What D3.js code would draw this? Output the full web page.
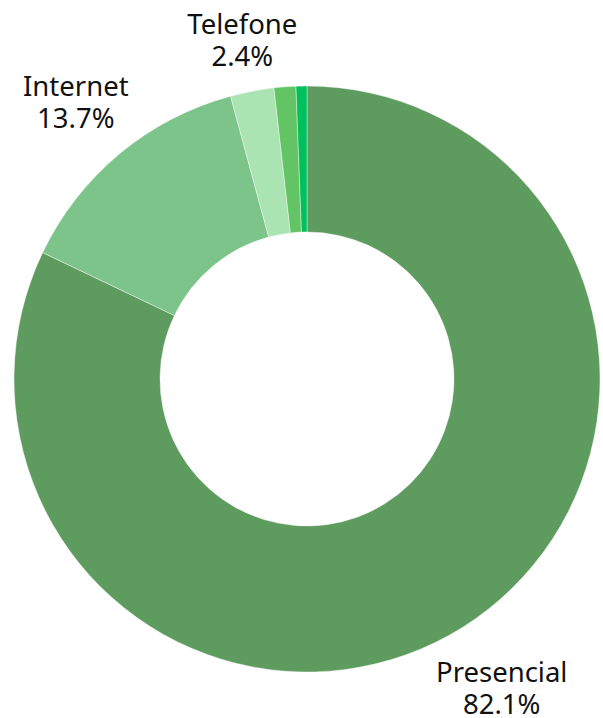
<!DOCTYPE html>
<html>
<head>
<meta charset="utf-8">
<script src="https://cdn.jsdelivr.net/npm/d3@7"></script>
<style>
  html, body { margin: 0; padding: 0; background: #fff; }
  svg { display: block; }
</style>
</head>
<body>
<svg id="chart" width="603" height="718"></svg>
<script>
const categories = ["Presencial", "Internet", "Telefone", "Outro A", "Outro B"];
const values = [82.1, 13.7, 2.4, 1.2, 0.6];
const showLabel = [true, true, true, false, false];
const colors = ["#5e9b5f", "#7cc48a", "#a9e4b2", "#63c465", "#00c05c"];

const W = 603, H = 718;
const cx = 307, cy = 379;
const outerR = 293, innerR = 147;
const pad = 8;

const svg = d3.select("#chart");
const g = svg.append("g").attr("transform", `translate(${cx},${cy})`);

const data = categories.map((c, i) => ({ name: c, value: values[i], color: colors[i], label: showLabel[i] }));

const pie = d3.pie().value(d => d.value).sort(null);
const arc = d3.arc().innerRadius(innerR).outerRadius(outerR);
const arcs = pie(data);

g.selectAll("path.slice")
  .data(arcs)
  .enter().append("path")
  .attr("class", "slice")
  .attr("d", arc)
  .attr("fill", d => d.data.color)
  .attr("stroke", "#ffffff")
  .attr("stroke-width", 0.4);

const fontFamily = "'Noto Sans', 'Open Sans', sans-serif";
const fontSize = 27.5;
const lineGap = 32;

arcs.filter(d => d.data.label).forEach(d => {
  const mid = (d.startAngle + d.endAngle) / 2;
  const sx = Math.sin(mid), sy = -Math.cos(mid);
  const t = g.append("text")
    .attr("text-anchor", "middle")
    .attr("font-family", fontFamily)
    .attr("font-size", fontSize)
    .attr("fill", "#111");
  t.append("tspan").attr("x", 0).attr("dy", 0).text(d.data.name);
  t.append("tspan").attr("x", 0).attr("dy", lineGap).text(d3.format(".1f")(d.data.value) + "%");
  const bb = t.node().getBBox();
  const hw = bb.width / 2, hh = bb.height / 2;
  const support = hw * Math.abs(sx) + hh * Math.abs(sy);
  const dist = outerR + pad + support;
  const px = dist * sx, py = dist * sy;
  const bcx = bb.x + bb.width / 2, bcy = bb.y + bb.height / 2;
  t.attr("transform", `translate(${px - bcx},${py - bcy})`);
});
</script>
</body>
</html>
